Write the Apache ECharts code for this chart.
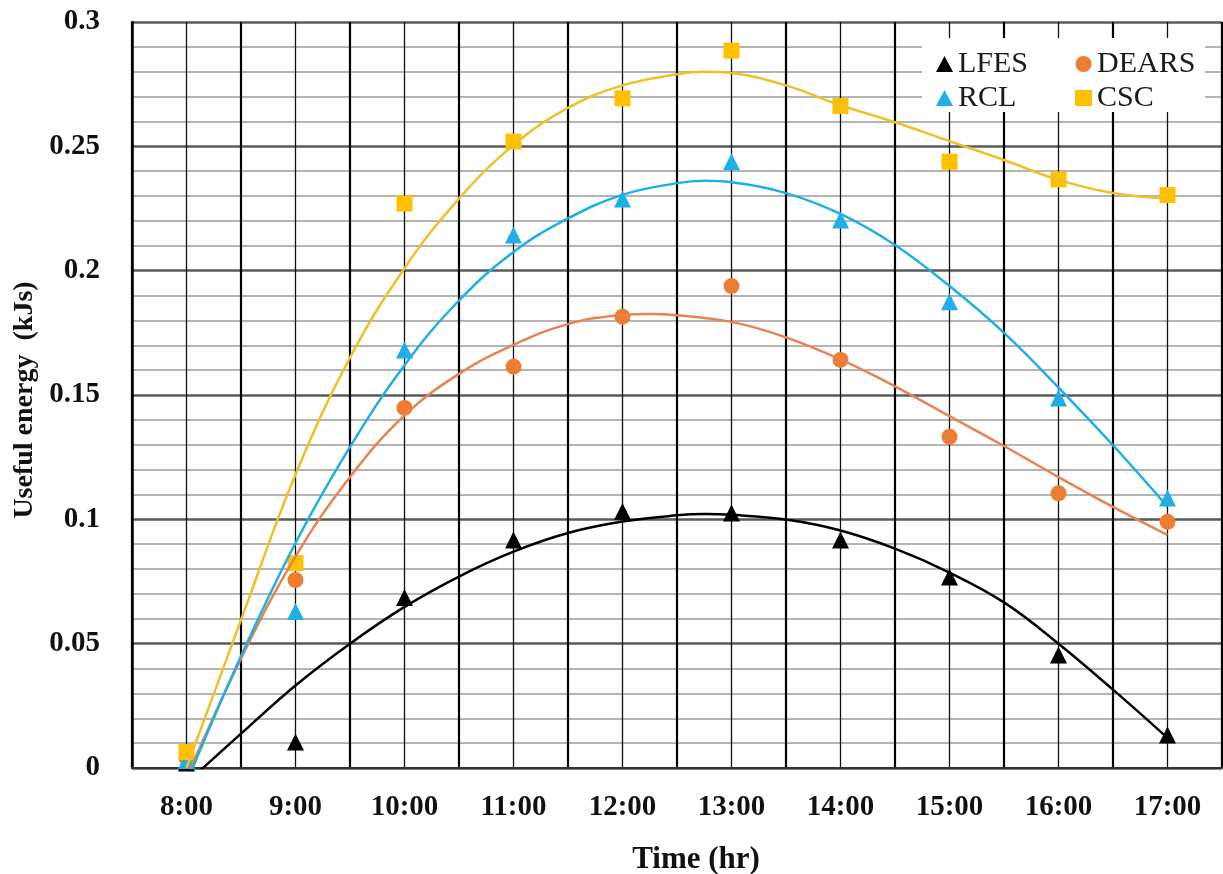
<!DOCTYPE html>
<html>
<head>
<meta charset="utf-8">
<script src="https://cdn.jsdelivr.net/npm/echarts@6/dist/echarts.min.js"></script>
<style>
html,body{margin:0;padding:0;background:#fff;}
#chart{width:1223px;height:874px;}
</style>
</head>
<body>
<div id="chart"></div>
<script>
// ---- Data ----
const hourLabels = ['8:00','9:00','10:00','11:00','12:00','13:00','14:00','15:00','16:00','17:00'];
const hours = [8, 9, 10, 11, 12, 13, 14, 15, 16, 17];

const lfes  = [0.002, 0.0105, 0.0686, 0.0917, 0.1031, 0.1025, 0.0917, 0.0768, 0.0454, 0.0133];
const dears = [0.004, 0.0756, 0.1448, 0.1614, 0.1815, 0.1938, 0.1641, 0.1332, 0.1105, 0.0990];
const rcl   = [0.003, 0.0629, 0.1681, 0.2143, 0.2288, 0.2438, 0.2204, 0.1875, 0.1488, 0.1086];
const csc   = [0.0064, 0.0824, 0.2270, 0.2519, 0.2693, 0.2885, 0.2662, 0.2438, 0.2367, 0.2304];

// trend curves (half hours plus the apex of each curve)
const lfesTrendX  = [8, 8.5, 9, 9.5, 10, 10.5, 11, 11.5, 12, 12.5, 12.75, 13, 13.5, 14, 14.5, 15, 15.5, 16, 16.5, 17];
const lfesTrendY  = [-0.006, 0.0138, 0.0332, 0.0500, 0.0648, 0.0770, 0.0870, 0.0945, 0.0991, 0.1016, 0.1021, 0.1018, 0.0999, 0.0955, 0.0882, 0.0786, 0.0666, 0.0500, 0.0315, 0.0121];
const dearsTrendX = [8, 8.5, 9, 9.5, 10, 10.5, 11, 11.5, 12, 12.25, 12.5, 13, 13.5, 14, 14.5, 15, 15.5, 16, 16.5, 17];
const dearsTrendY = [-0.004, 0.0440, 0.0850, 0.1170, 0.1418, 0.1585, 0.1702, 0.1785, 0.1822, 0.1826, 0.1821, 0.1794, 0.1732, 0.1643, 0.1535, 0.1415, 0.1295, 0.1170, 0.1050, 0.0937];
const rclTrendX   = [8, 8.5, 9, 9.5, 10, 10.5, 11, 11.5, 12, 12.5, 12.75, 13, 13.5, 14, 14.5, 15, 15.5, 16, 16.5, 17];
const rclTrendY   = [-0.006, 0.0450, 0.0905, 0.1291, 0.1620, 0.1880, 0.2075, 0.2210, 0.2305, 0.2352, 0.2362, 0.2356, 0.2312, 0.2228, 0.2103, 0.1938, 0.1750, 0.1530, 0.1298, 0.1051];
const cscTrendX   = [8, 8.5, 9, 9.5, 10, 10.5, 11, 11.5, 12, 12.5, 12.75, 13, 13.5, 14, 14.5, 15, 15.5, 16, 16.5, 17];
const cscTrendY   = [0.000, 0.0595, 0.1180, 0.1650, 0.2010, 0.2290, 0.2505, 0.2655, 0.2745, 0.2790, 0.2800, 0.2795, 0.2745, 0.2665, 0.2597, 0.2521, 0.2445, 0.2365, 0.2312, 0.2290];

const yTickLabels = ['0', '0.05', '0.1', '0.15', '0.2', '0.25', '0.3'];

// ---- helpers ----
const pair = (xs, ys) => xs.map((x, i) => [x, ys[i]]);
const FONT = 'Liberation Serif';
const C = { lfes: '#000000', dears: '#ED7D31', rcl: '#1EAEE8', csc: '#FFC000' };
const LC = { lfes: '#000000', dears: '#EA8250', rcl: '#1EAEE8', csc: '#EEC12A' };

function scatter(name, data, symbol, color, size) {
  return {
    name, type: 'scatter', xAxisIndex: 0, yAxisIndex: 0,
    symbol, symbolSize: size, data: pair(hours, data),
    itemStyle: { color, opacity: 1 }, z: 2, silent: true
  };
}
function trend(name, xs, ys, color) {
  return {
    name, type: 'line', xAxisIndex: 0, yAxisIndex: 0,
    data: pair(xs, ys), smooth: 0.4, showSymbol: false, clip: true,
    lineStyle: { color, width: 2.5 }, itemStyle: { color }, z: 3, silent: true
  };
}

const chart = echarts.init(document.getElementById('chart'), null, { renderer: 'canvas' });

const legendText = { fontFamily: FONT, fontSize: 30, color: '#1a1a1a', lineHeight: 30 };

chart.setOption({
  backgroundColor: '#ffffff',
  animation: false,
  grid: { left: 132, right: 1, top: 22, bottom: 106, containLabel: false, outerBoundsMode: 'none' },
  xAxis: [
    {
      type: 'value', min: 7.5, max: 17.5, interval: 1, z: 1,
      name: 'Time (hr)', nameLocation: 'middle', nameGap: 76,
      nameTextStyle: { fontFamily: FONT, fontSize: 31, fontWeight: 'bold', color: '#111', padding: [0, 0, 0, 38] },
      axisLine: { show: true, onZero: false, lineStyle: { color: '#333', width: 2 } },
      axisTick: { show: false },
      axisLabel: { show: false },
      splitLine: { show: true, lineStyle: { color: '#000', width: 2.2 } },
      minorTick: { show: false, splitNumber: 2 },
      minorSplitLine: { show: true, lineStyle: { color: '#111', width: 1.3 } }
    },
    {
      type: 'category', data: hourLabels, boundaryGap: true, position: 'bottom',
      axisLine: { show: false }, axisTick: { show: false }, splitLine: { show: false },
      axisLabel: { margin: 25, fontFamily: FONT, fontSize: 29, fontWeight: 'bold', color: '#111' }
    }
  ],
  yAxis: {
    type: 'value', min: 0, max: 0.3, interval: 0.05,
    name: 'Useful energy  (kJs)', nameLocation: 'middle', nameGap: 90, nameRotate: 90,
    nameTextStyle: { fontFamily: FONT, fontSize: 28, fontWeight: 'bold', color: '#111', padding: [0, 10, 0, 0] },
    axisLine: { show: true, lineStyle: { color: '#000', width: 2.5 } },
    axisTick: { show: false },
    axisLabel: {
      margin: 32, fontFamily: FONT, fontSize: 29, fontWeight: 'bold', color: '#111',
      formatter: (v) => yTickLabels[Math.round(v / 0.05)]
    },
    splitLine: { show: true, lineStyle: { color: '#5a5a5a', width: 2.5 } },
    minorTick: { show: false, splitNumber: 5 },
    minorSplitLine: { show: true, lineStyle: { color: '#b4b4b4', width: 2 } }
  },
  legend: [
    {
      data: ['LFES', 'RCL'], orient: 'vertical', left: 936, top: 49, padding: 0,
      itemWidth: 17, itemHeight: 16, itemGap: 4, textStyle: legendText, selectedMode: false
    },
    {
      data: ['DEARS', 'CSC'], orient: 'vertical', left: 1075, top: 49, padding: 0,
      itemWidth: 17, itemHeight: 16, itemGap: 4, textStyle: legendText, selectedMode: false
    }
  ],
  graphic: [
    { type: 'rect', left: 922, top: 38, shape: { width: 283, height: 74 }, style: { fill: '#ffffff' }, z: 3 }
  ],
  series: [
    scatter('LFES', lfes, 'triangle', C.lfes, 17),
    scatter('DEARS', dears, 'circle', C.dears, 16),
    scatter('RCL', rcl, 'triangle', C.rcl, 17),
    scatter('CSC', csc, 'rect', C.csc, 16),
    trend('LFES trend', lfesTrendX, lfesTrendY, LC.lfes),
    trend('DEARS trend', dearsTrendX, dearsTrendY, LC.dears),
    trend('RCL trend', rclTrendX, rclTrendY, LC.rcl),
    trend('CSC trend', cscTrendX, cscTrendY, LC.csc)
  ]
});
</script>
</body>
</html>
